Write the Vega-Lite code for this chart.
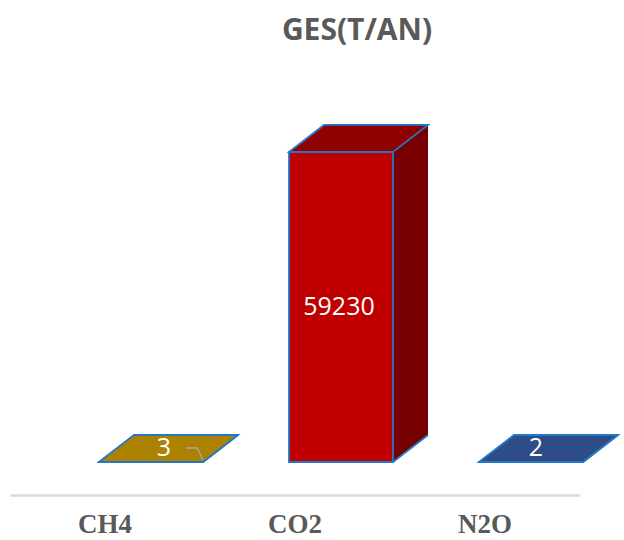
{
  "$schema": "https://vega.github.io/schema/vega-lite/v6.json",
  "width": 570,
  "height": 402,
  "autosize": "none",
  "padding": {"left": 10, "right": 44, "top": 60, "bottom": 78},
  "background": "white",
  "title": {
    "text": "GES(T/AN)",
    "font": "Open Sans",
    "fontSize": 30,
    "fontWeight": "bold",
    "color": "#595959",
    "letterSpacing": 2.2,
    "anchor": "middle",
    "baseline": "alphabetic",
    "offset": -10,
    "dx": 62
  },
  "data": {
    "values": [
      {"gas": "CH4", "value": 3},
      {"gas": "CO2", "value": 59230},
      {"gas": "N2O", "value": 2}
    ]
  },
  "encoding": {
    "x": {
      "field": "gas",
      "type": "nominal",
      "sort": null,
      "title": null,
      "scale": {"paddingInner": 0, "paddingOuter": 0},
      "axis": {
        "offset": 33,
        "domainColor": "#d9d9d9",
        "domainWidth": 2.5,
        "ticks": false,
        "tickSize": 0,
        "labelAngle": 0,
        "labelFont": "Liberation Serif",
        "labelFontSize": 27,
        "labelFontWeight": "bold",
        "labelColor": "#595959",
        "labelPadding": 16,
        "grid": false
      }
    }
  },
  "layer": [
    {
      "description": "side face of each box, lifted by the depth offset",
      "mark": {"type": "bar", "width": 35, "xOffset": 115.5, "yOffset": -27, "y2Offset": -27},
      "encoding": {
        "y": {"field": "value", "type": "quantitative", "scale": {"domain": [0, 76800], "nice": false, "zero": true}, "axis": null},
        "y2": {"datum": 0},
        "color": {"field": "gas", "type": "nominal", "legend": null,
          "scale": {"domain": ["CH4", "CO2", "N2O"], "range": ["#7d5e00", "#760000", "#1f3560"]}}
      }
    },
    {
      "description": "lower corner of the side face",
      "mark": {"type": "point", "shape": "M0,0 L0,-27 L35,-27 Z", "size": 4, "filled": true, "opacity": 1, "strokeWidth": 0, "xOffset": 98},
      "encoding": {
        "y": {"datum": 0, "type": "quantitative"},
        "color": {"field": "gas", "type": "nominal", "legend": null,
          "scale": {"domain": ["CH4", "CO2", "N2O"], "range": ["#7d5e00", "#760000", "#1f3560"]}}
      }
    },
    {
      "description": "bottom edge of the side face",
      "mark": {"type": "point", "shape": "M0,0 L35,-27", "size": 4, "filled": false, "opacity": 1, "stroke": "#2478c8", "strokeWidth": 1.8, "xOffset": 98},
      "encoding": {
        "y": {"datum": 0, "type": "quantitative"}
      }
    },
    {
      "description": "front face",
      "mark": {"type": "bar", "width": 104, "xOffset": 46, "stroke": "#2478c8", "strokeWidth": 1.8},
      "encoding": {
        "y": {"field": "value", "type": "quantitative"},
        "y2": {"datum": 0},
        "color": {"field": "gas", "type": "nominal", "legend": null,
          "scale": {"domain": ["CH4", "CO2", "N2O"], "range": ["#ad8200", "#c00000", "#2e4d86"]}}
      }
    },
    {
      "description": "top face, a parallelogram anchored on the front top edge",
      "mark": {"type": "point", "shape": "M-52,0 L-17,-27 L87,-27 L52,0 Z", "size": 4, "filled": true, "opacity": 1, "stroke": "#2478c8", "strokeWidth": 1.8, "xOffset": 46},
      "encoding": {
        "y": {"field": "value", "type": "quantitative"},
        "color": {"field": "gas", "type": "nominal", "legend": null,
          "scale": {"domain": ["CH4", "CO2", "N2O"], "range": ["#ad8200", "#8f0000", "#2e4d86"]}}
      }
    },
    {
      "description": "value label inside the tall box",
      "transform": [
        {"filter": "datum.value > 1000"},
        {"calculate": "datum.value / 2", "as": "mid"}
      ],
      "mark": {"type": "text", "font": "Open Sans", "fontSize": 25, "color": "white", "baseline": "middle", "align": "center", "xOffset": 44},
      "encoding": {
        "y": {"field": "mid", "type": "quantitative"},
        "text": {"field": "value", "type": "quantitative", "format": "d"}
      }
    },
    {
      "description": "CH4 label on its flat top",
      "transform": [{"filter": "datum.gas === 'CH4'"}],
      "mark": {"type": "text", "font": "Open Sans", "fontSize": 25, "color": "white", "baseline": "middle", "align": "center", "xOffset": 59, "yOffset": -14},
      "encoding": {
        "y": {"field": "value", "type": "quantitative"},
        "text": {"field": "value", "type": "quantitative", "format": "d"}
      }
    },
    {
      "description": "leader line beside the CH4 label",
      "transform": [{"filter": "datum.gas === 'CH4'"}],
      "mark": {"type": "point", "shape": "M0,0 L11,0 L17,12", "size": 4, "filled": false, "opacity": 1, "stroke": "#a6a6a6", "strokeWidth": 1.5, "xOffset": 81, "yOffset": -14},
      "encoding": {
        "y": {"field": "value", "type": "quantitative"}
      }
    },
    {
      "description": "N2O label on its flat top",
      "transform": [{"filter": "datum.gas === 'N2O'"}],
      "mark": {"type": "text", "font": "Open Sans", "fontSize": 25, "color": "white", "baseline": "middle", "align": "center", "xOffset": 51, "yOffset": -14},
      "encoding": {
        "y": {"field": "value", "type": "quantitative"},
        "text": {"field": "value", "type": "quantitative", "format": "d"}
      }
    }
  ],
  "resolve": {"scale": {"color": "independent"}},
  "config": {"view": {"stroke": null}}
}
